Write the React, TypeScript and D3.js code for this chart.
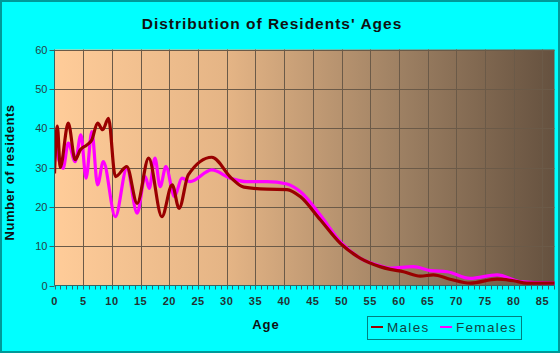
import React from "react";
import * as d3 from "d3";

const title = "Distribution of Residents' Ages";
const xTicks = [0, 5, 10, 15, 20, 25, 30, 35, 40, 45, 50, 55, 60, 65, 70, 75, 80, 85];
const yTicks = [0, 10, 20, 30, 40, 50, 60];

const maleAges = [0, 0.5, 1.0, 2.4, 3.6, 4.5, 5.6, 6.5, 7.5, 8.4, 9.4, 10.6, 12.6, 14.4, 16.4, 18.7, 20.5, 21.7, 23.3, 27.4, 30.8, 33, 37, 40.5, 42.8, 46.3, 49.8, 53.3, 56.7, 58.5, 60.8, 63.7, 66, 68.9, 72.4, 77.1, 80, 82.3, 87.3];
const maleVals = [28.5, 40.5, 30, 41.3, 32, 34.5, 35.7, 37, 41.3, 39.6, 42.5, 27.7, 30.2, 20.9, 32.4, 17.5, 25.6, 19.6, 28.1, 32.6, 27.3, 25, 24.5, 24.4, 22.6, 16.7, 10.7, 6.9, 4.8, 4.1, 3.5, 2.4, 2.7, 1.6, 0.6, 1.6, 1.2, 0.6, 0.6];

const femaleAges = [0, 1.5, 2.4, 3.6, 4.6, 5.5, 6.5, 7.5, 8.5, 10.6, 12.6, 14.4, 15.8, 16.5, 17.5, 18.4, 19.4, 20.9, 22.2, 23.6, 27.4, 30.6, 33.5, 37, 40.5, 42.8, 46.3, 49.8, 53.3, 56.7, 58.5, 62.5, 65.5, 68.4, 72.4, 77.1, 81.1, 87.3];
const femaleVals = [36.6, 29.8, 36.2, 31.5, 38.3, 27.3, 39.1, 25.6, 31.5, 17.5, 29.8, 18.4, 27.7, 24.7, 32.4, 25.1, 30.2, 22.6, 27.3, 26.4, 29.4, 27.3, 26.4, 26.4, 25.8, 23.9, 17.9, 11.1, 6.9, 5, 4.4, 4.8, 3.8, 3.5, 1.8, 2.7, 1, 0.6];

const seriesNames = ["Males", "Females"];
const seriesColors = ["#990000", "#ff00ff"];

const W = 560, H = 353;
const L = 54.5, R = 554.5, T = 49.5, B = 285.5;

export default function App() {
  const x = d3.scaleLinear().domain([0, 87.1]).range([L, R]);
  const y = d3.scaleLinear().domain([0, 60]).range([B, T]);
  const line = d3.line<[number, number]>().x(d => x(d[0])).y(d => y(d[1])).curve(d3.curveMonotoneX);
  const male = maleAges.map((a, i) => [a, maleVals[i]] as [number, number]);
  const female = femaleAges.map((a, i) => [a, femaleVals[i]] as [number, number]);
  const minor = d3.range(0, 88, 1);
  const font = "'Liberation Sans', Arial, sans-serif";
  return (
    <div>
      <style>{`body{margin:0}`}</style>
      <svg width={W} height={H} style={{ display: "block", fontFamily: font }}>
        <defs>
          <linearGradient id="bg" x1="0" x2="1" y1="0" y2="0">
            <stop offset="0" stopColor="#ffcc99" />
            <stop offset="0.35" stopColor="#e4b485" />
            <stop offset="0.7" stopColor="#9c7f62" />
            <stop offset="1" stopColor="#65513f" />
          </linearGradient>
          <clipPath id="clip"><rect x={L} y={T - 2} width={R - L} height={B - T + 2} /></clipPath>
        </defs>
        <rect x={0} y={0} width={W} height={H} fill="#00ffff" />
        <rect x={1} y={1} width={W - 2} height={H - 2} fill="none" stroke="#009999" strokeWidth={2} />
        <text x={272} y={28.5} textAnchor="middle" fontSize={15.5} fontWeight="bold" letterSpacing={1} fill="#111">{title}</text>
        <rect x={L} y={T} width={R - L} height={B - T} fill="url(#bg)" />
        {xTicks.filter(t => t > 0).map(t => (
          <line key={"gx" + t} x1={Math.round(x(t)) + 0.5} x2={Math.round(x(t)) + 0.5} y1={T} y2={B} stroke="#6b5a48" strokeWidth={1} />
        ))}
        {yTicks.filter(t => t > 0).map(t => (
          <line key={"gy" + t} x1={L} x2={R} y1={Math.round(y(t)) + 0.5} y2={Math.round(y(t)) + 0.5} stroke="#6b5a48" strokeWidth={1} />
        ))}
        <g clipPath="url(#clip)">
          <path d={line(female) || ""} fill="none" stroke={seriesColors[1]} strokeWidth={3.2} strokeLinejoin="round" />
          <path d={line(male) || ""} fill="none" stroke={seriesColors[0]} strokeWidth={3.2} strokeLinejoin="round" />
        </g>
        <line x1={L} x2={L} y1={T} y2={B} stroke="#336666" />
        <line x1={L} x2={R} y1={B} y2={B} stroke="#336666" />
        {yTicks.map(t => (
          <g key={"yt" + t}>
            <line x1={L - 5} x2={L} y1={Math.round(y(t)) + 0.5} y2={Math.round(y(t)) + 0.5} stroke="#336666" />
            <text x={L - 7} y={y(t) + 4} textAnchor="end" fontSize={11} fill="#224444">{t}</text>
          </g>
        ))}
        {minor.map(t => (
          <line key={"mt" + t} x1={Math.round(x(t)) + 0.5} x2={Math.round(x(t)) + 0.5} y1={B} y2={B + 4} stroke="#336666" />
        ))}
        {xTicks.map(t => (
          <text key={"xt" + t} x={x(t)} y={305} textAnchor="middle" fontSize={11} fontWeight="bold" letterSpacing={0.5} fill="#223333">{t}</text>
        ))}
        <text x={14} y={(T + B) / 2 + 5} transform={`rotate(-90 14 ${(T + B) / 2 + 5})`} textAnchor="middle" fontSize={13} fontWeight="bold" letterSpacing={0.5} fill="#111">Number of residents</text>
        <text x={266} y={329} textAnchor="middle" fontSize={13} fontWeight="bold" letterSpacing={1} fill="#111">Age</text>
        <rect x={367.5} y={316.5} width={154} height={23} fill="none" stroke="#008080" />
        {seriesNames.map((n, i) => {
          const ox = i === 0 ? 371 : 440;
          return (
            <g key={n}>
              <line x1={ox} x2={ox + 12} y1={327} y2={327} stroke={seriesColors[i]} strokeWidth={2} />
              <text x={ox + 16} y={332} fontSize={13.5} letterSpacing={1.3} fill="#114444">{n}</text>
            </g>
          );
        })}
      </svg>
    </div>
  );
}
